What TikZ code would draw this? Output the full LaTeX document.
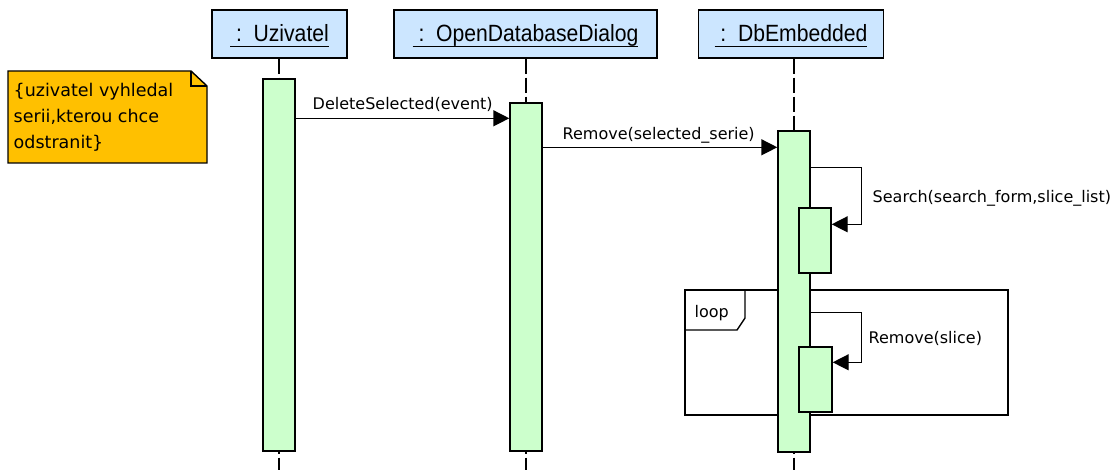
\documentclass[tikz,border=0pt]{standalone}
\usepackage{fontspec}
\usepackage{graphicx}
\setmainfont{DejaVu Sans}
\newfontfamily\headfont{Liberation Sans}
\usetikzlibrary{arrows.meta}
\definecolor{headblue}{RGB}{204,230,255}
\definecolor{bargreen}{RGB}{204,255,204}
\definecolor{noteorange}{RGB}{255,192,0}
\newcommand\headtext[1]{\scalebox{0.9}[1]{\headfont\fontsize{23.5}{28}\selectfont\setbox0\hbox{#1}\rlap{\rule[-5.5pt]{\wd0}{1.4pt}}\box0}}
\tikzset{
  every path/.style={line width=1.4pt},
  headbox/.style={draw, fill=headblue, minimum height=48pt, inner sep=0pt, text height=19pt, text depth=3pt},
  actbar/.style={draw, fill=bargreen, minimum width=32pt, inner sep=0pt},
  lifeline/.style={dash pattern=on 15pt off 4pt},
  msg/.style={-{Triangle[length=16pt,width=16pt]}},
  msglabel/.style={font=\fontsize{16}{19}\selectfont, inner sep=0pt, anchor=base west},
}
\begin{document}
\begin{tikzpicture}[x=1pt,y=-1pt]
\useasboundingbox (0,0) rectangle (1116,470);
% note
\draw[fill=noteorange] (8,71) -- (191,71) -- (207,86) -- (207,163) -- (8,163) -- cycle;
\draw (191,71) -- (191,86) -- (207,86);
\node[align=left, inner sep=0pt, anchor=base west, font=\fontsize{17.5}{26}\selectfont] (note) at (13,149)
  {\{uzivatel vyhledal\\serii,kterou chce\\odstranit\}};
% loop frame
\node[draw, minimum width=323pt, minimum height=125pt, inner sep=0pt] (loopframe) at (846.5,352.5) {};
\draw (745,290) -- (745,318) -- (737,330) -- (685,330);
\node[msglabel] (looplabel) at (694,317) {loop};
% heads
\node[headbox, minimum width=135pt] (headU) at (279.5,34) {\headtext{ :\ \ Uzivatel}};
\node[headbox, minimum width=263pt] (headO) at (525.5,34) {\headtext{ :\ \ OpenDatabaseDialog}};
\node[headbox, minimum width=185pt] (headD) at (791,34) {\headtext{ :\ \ DbEmbedded}};
\coordinate (bot) at (0,472);
% bars (positions)
\path
  (279,265) node[actbar, minimum height=372pt] (barU) {}
  (526,277) node[actbar, minimum height=348pt] (barO) {}
  (794,291.5) node[actbar, minimum height=321pt] (barD) {};
% lifelines
\draw[lifeline] (barU |- headU.south) -- (barU |- bot);
\draw[lifeline] (barO |- headO.south) -- (barO |- bot);
\draw[lifeline] (barD |- headD.south) -- (barD |- bot);
% redraw bars on top
\node[actbar, minimum height=372pt] at (barU) {};
\node[actbar, minimum height=348pt] at (barO) {};
\node[actbar, minimum height=321pt] at (barD) {};
\node[actbar, minimum height=65pt] (subS) at (815,240.5) {};
\node[actbar, minimum height=65pt, minimum width=33pt] (subR) at (815.5,379.5) {};
% messages
\draw[msg] ([yshift=-40pt]barU.north east) -- ([yshift=-16pt]barO.north west);
\node[msglabel] (m1) at (312,110) {DeleteSelected(event)};
\draw[msg] ([yshift=-45pt]barO.north east) -- ([yshift=-17pt]barD.north west);
\node[msglabel] (m2) at (562,140) {Remove(selected\_serie)};
\draw[msg] ([yshift=-37pt]barD.north east) -- ++(51,0) |- ([yshift=-17pt]subS.north east);
\node[msglabel] (m3) at (872,203) {Search(search\_form,slice\_list)};
\draw[msg] ([yshift=-182pt]barD.north east) -- ++(51,0) |- ([yshift=-16pt]subR.north east);
\node[msglabel] (m4) at (868,343) {Remove(slice)};
\end{tikzpicture}
\end{document}
